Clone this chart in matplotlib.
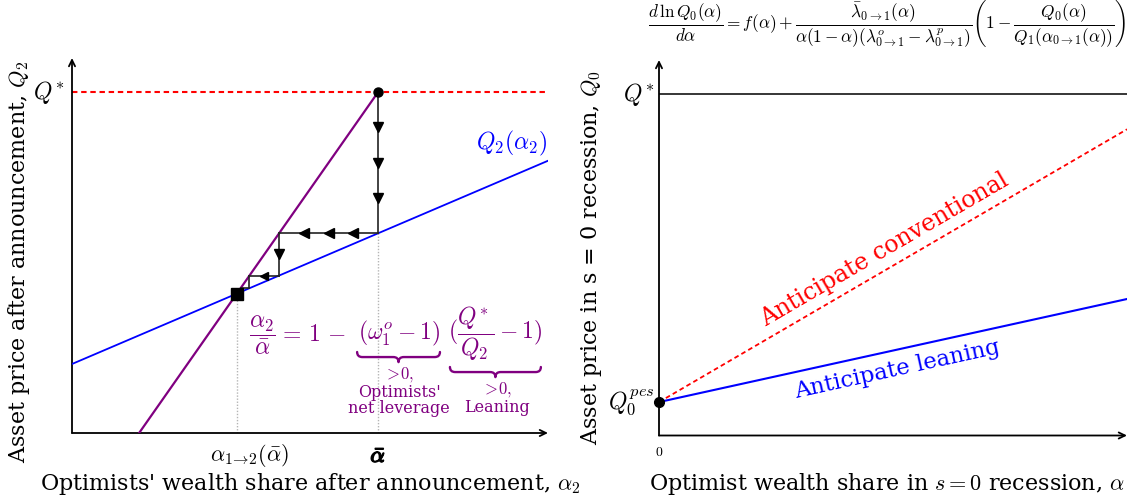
import numpy as np
import matplotlib
matplotlib.use("Agg")
import matplotlib.pyplot as plt
import matplotlib.patheffects as pe
from matplotlib.path import Path
from matplotlib.patches import PathPatch
from matplotlib.transforms import blended_transform_factory

plt.rcParams["mathtext.fontset"] = "cm"
plt.rcParams["font.family"] = "DejaVu Serif"

# ---- left panel: price schedule after the announcement ----
alpha_bar = 0.643        # optimists' wealth share before the announcement
q_star = 0.909           # first-best price Q*
q2_intercept = 0.184     # Q2(alpha2) at alpha2 = 0
q2_slope = 0.542         # slope of Q2(alpha2)
wealth_root = 0.141      # alpha2 at which the wealth-share schedule reaches Q2 = 0
arrows_vertical = [3, 1, 0]     # arrowheads on each downward step of the iteration
arrows_horizontal = [3, 1, 0]   # arrowheads on each leftward step

# ---- right panel: price in the s = 0 recession ----
alpha_grid = [0.0, 1.0]
q0_pes = 0.089
q0_leaning = [0.089, 0.3635]
q0_conventional = [0.089, 0.8155]
q_star_right = 0.909

PURPLE = "#800080"
BLUE = "#0000ff"
RED = "#ff0000"

W, H = 1131, 499
fig = plt.figure(figsize=(W / 100, H / 100), dpi=100)


def px_axes(x0, x1, ytop, ybot):
    return fig.add_axes([x0 / W, (H - ybot) / H, (x1 - x0) / W, (ybot - ytop) / H])


def draw_arrows_axes(ax):
    for sp in ax.spines.values():
        sp.set_visible(False)
    ax.set_xticks([])
    ax.set_yticks([])
    ax.set_xlim(0, 1)
    ax.set_ylim(0, 1)
    style = dict(arrowstyle="->,head_length=0.45,head_width=0.22", lw=1.3,
                 color="black", shrinkA=0, shrinkB=0)
    ax.annotate("", xy=(1.0, 0), xytext=(0, 0), xycoords="axes fraction",
                arrowprops=style, annotation_clip=False)
    ax.annotate("", xy=(0, 1.0), xytext=(0, 0), xycoords="axes fraction",
                arrowprops=style, annotation_clip=False)


def brace(ax, x0, x1, ytop, h, r, color, lw):
    ym = ytop - h / 2
    yb = ytop - h
    xm = 0.5 * (x0 + x1)
    verts = [(x0, ytop), (x0, ym), (x0 + r, ym),
             (xm - r, ym),
             (xm, ym), (xm, yb),
             (xm, ym), (xm + r, ym),
             (x1 - r, ym),
             (x1, ym), (x1, ytop)]
    codes = [Path.MOVETO, Path.CURVE3, Path.CURVE3,
             Path.LINETO,
             Path.CURVE3, Path.CURVE3,
             Path.CURVE3, Path.CURVE3,
             Path.LINETO,
             Path.CURVE3, Path.CURVE3]
    ax.add_patch(PathPatch(Path(verts, codes), fill=False, ec=color, lw=lw,
                           capstyle="round", joinstyle="round", clip_on=False))


# ================= left panel =================
axL = px_axes(72, 548, 58, 433)
draw_arrows_axes(axL)


def q2(a):
    return q2_intercept + q2_slope * np.asarray(a)


def wealth_alpha(q):
    # alpha2 implied by the wealth-share schedule at price q
    return wealth_root + (alpha_bar - wealth_root) * np.asarray(q) / q_star


# fixed point of the two schedules
alpha_fix = (q2_intercept + q_star * wealth_root / (alpha_bar - wealth_root)) / (
    q_star / (alpha_bar - wealth_root) - q2_slope)
q_fix = float(q2(alpha_fix))

# Q* reference line
axL.plot([0, 1], [q_star, q_star], color=RED, lw=1.5, dashes=(2.6, 1.8), zorder=2)
# Q2(alpha2)
axL.plot([0, 1], q2([0, 1]), color=BLUE, lw=1.3, zorder=3)
# wealth-share schedule
axL.plot([wealth_root, alpha_bar], [0, q_star], color=PURPLE, lw=1.6, zorder=3)

# guide lines
axL.plot([alpha_bar, alpha_bar], [0, q2(alpha_bar)], color="#b5b5b5", lw=1.0,
         ls=(0, (1, 1.2)), zorder=1)
axL.plot([alpha_fix, alpha_fix], [0, q_fix], color="#b5b5b5", lw=1.0,
         ls=(0, (1, 1.2)), zorder=1)

# iteration between the two schedules
a, q = alpha_bar, q_star
for k in range(len(arrows_vertical)):
    q_new = float(q2(a))
    axL.plot([a, a], [q, q_new], color="#222222", lw=1.2, zorder=4)
    n = arrows_vertical[k]
    for j in range(n):
        f = (j + 1) / (n + 1)
        axL.plot(a, q + f * (q_new - q), marker="v", color="black", ms=7.5, zorder=5)
    q = q_new
    a_new = float(wealth_alpha(q))
    axL.plot([a, a_new], [q, q], color="#222222", lw=1.2, zorder=4)
    n = arrows_horizontal[k]
    for j in range(n):
        f = (j + 1) / (n + 1)
        axL.plot(a + f * (a_new - a), q, marker="<", color="black",
                 ms=7.5 if k == 0 else 6, zorder=5)
    a = a_new

axL.plot(alpha_bar, q_star, "o", color="black", ms=6.5, zorder=6)
axL.plot(alpha_fix, q_fix, "s", color="black", ms=8, zorder=6)

# axis labels and ticks
axL.text(-0.016, q_star, r"$Q^{\!*}$", ha="right", va="center", fontsize=17,
         transform=blended_transform_factory(axL.transAxes, axL.transData))
axL.annotate(r"$\alpha_{1\!\to\!2}(\bar{\alpha})$", xy=(alpha_fix, 0),
             xycoords=("data", "axes fraction"), xytext=(9, -16.5),
             textcoords="offset points", ha="center", va="center", fontsize=16)
axL.annotate(r"$\bar{\alpha}$", xy=(alpha_bar, 0),
             xycoords=("data", "axes fraction"), xytext=(0, -16.5),
             textcoords="offset points", ha="center", va="center", fontsize=16,
             path_effects=[pe.withStroke(linewidth=1.1, foreground="black")])
axL.text(0.998, 0.773, r"$Q_2(\alpha_2)$", color=BLUE, ha="right", va="center",
         fontsize=17)

axL.set_xlabel(r"Optimists' wealth share after announcement, $\alpha_2$", fontsize=16)
axL.xaxis.set_label_coords(0.5, -0.102)
axL.set_ylabel(r"Asset price after announcement, $Q_2$", fontsize=16)
axL.yaxis.set_label_coords(-0.084, 0.456)

# decomposition of the fixed point
eq_kw = dict(color=PURPLE, va="center", fontsize=17)
axL.text(0.3995, 0.262, r"$\dfrac{\alpha_2}{\bar{\alpha}}$", ha="center", **eq_kw)
axL.text(0.4335, 0.262, r"$=\,1\,-$", ha="left", **eq_kw)
axL.text(0.687, 0.266, r"$(\omega_1^o - 1)$", ha="center", **eq_kw)
axL.text(0.889, 0.262, r"$(\dfrac{Q^{\!*}}{Q_2} - 1)$", ha="center", **eq_kw)
brace(axL, 0.599, 0.773, 0.216, 0.027, 0.011, PURPLE, 1.7)
brace(axL, 0.794, 0.985, 0.176, 0.027, 0.011, PURPLE, 1.7)
axL.text(0.687, 0.155, r"$>\!0,$", color=PURPLE, ha="center", va="center", fontsize=12)
axL.text(0.687, 0.109, "Optimists'", color=PURPLE, ha="center", va="center", fontsize=11.5)
axL.text(0.687, 0.066, "net leverage", color=PURPLE, ha="center", va="center", fontsize=11.5)
axL.text(0.893, 0.115, r"$>\!0,$", color=PURPLE, ha="center", va="center", fontsize=12)
axL.text(0.893, 0.069, "Leaning", color=PURPLE, ha="center", va="center", fontsize=11.5)

# ================= right panel =================
axR = px_axes(659, 1127, 60, 435.5)
draw_arrows_axes(axR)

axR.plot(alpha_grid, [q_star_right, q_star_right], color="black", lw=1.1, zorder=2)
axR.plot(alpha_grid, q0_conventional, color=RED, lw=1.3, dashes=(2.6, 1.8), zorder=3)
axR.plot(alpha_grid, q0_leaning, color=BLUE, lw=1.5, zorder=3)
axR.plot(alpha_grid[0], q0_pes, "o", color="black", ms=7, zorder=5, clip_on=False)

ang_conv = np.degrees(np.arctan2(q0_conventional[1] - q0_conventional[0],
                                 alpha_grid[1] - alpha_grid[0]))
ang_lean = np.degrees(np.arctan2(q0_leaning[1] - q0_leaning[0],
                                 alpha_grid[1] - alpha_grid[0]))
axR.text(0.483, 0.494, "Anticipate conventional", color=RED, fontsize=17,
         ha="center", va="center", rotation=ang_conv, rotation_mode="anchor",
         transform_rotates_text=True)
axR.text(0.5085, 0.1744, "Anticipate leaning", color=BLUE, fontsize=16.3,
         ha="center", va="center", rotation=ang_lean, rotation_mode="anchor",
         transform_rotates_text=True)

ytrans = blended_transform_factory(axR.transAxes, axR.transData)
axR.text(-0.011, q_star_right, r"$Q^{\!*}$", ha="right", va="center", fontsize=17,
         transform=ytrans)
axR.text(-0.009, q0_pes, r"$Q_0^{pes}$", ha="right", va="center", fontsize=17,
         transform=ytrans)
axR.text(0.0, -0.045, r"$0$", ha="center", va="center", fontsize=10,
         transform=axR.transAxes)

axR.set_xlabel(r"Optimist wealth share in $s=0$ recession, $\alpha$", fontsize=16)
axR.xaxis.set_label_coords(0.488, -0.095)
axR.set_ylabel(r"Asset price in s = 0 recession, $Q_0$", fontsize=16)
axR.yaxis.set_label_coords(-0.1165, 0.475)

fig.text(887 / W, 1 - 24 / H,
         r"$\dfrac{d\,\ln Q_0(\alpha)}{d\alpha} = f(\alpha) + "
         r"\dfrac{\bar{\lambda}_{0\to1}(\alpha)}{\alpha(1-\alpha)(\lambda^o_{0\to1}-\lambda^p_{0\to1})}"
         r"\left(1-\dfrac{Q_0(\alpha)}{Q_1(\alpha_{0\to1}(\alpha))}\right)$",
         ha="center", va="center", fontsize=12.4)

fig.savefig("out.png", dpi=100)
